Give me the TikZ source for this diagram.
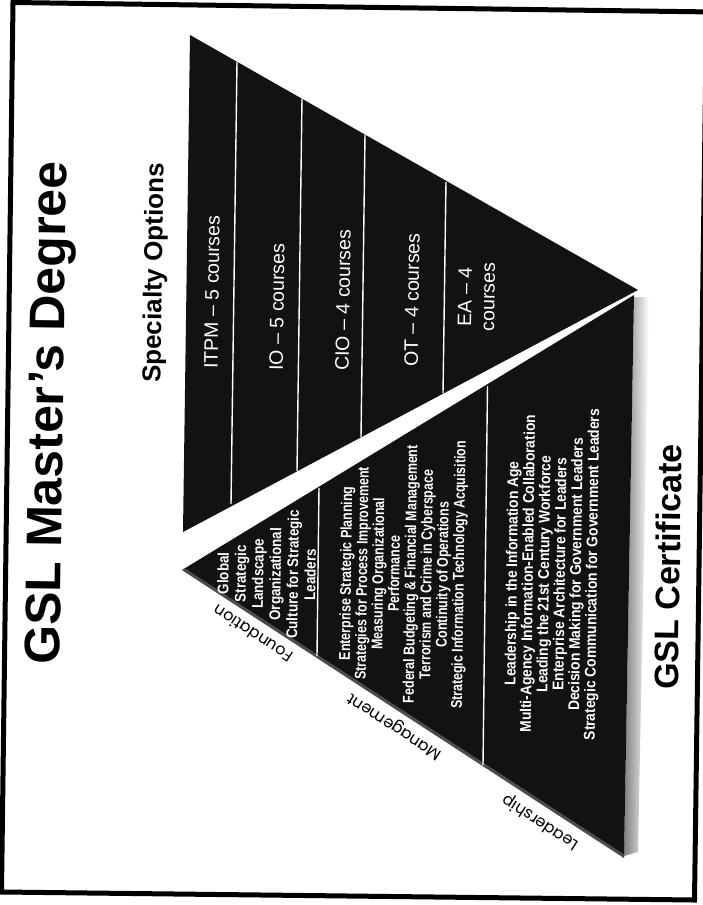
\documentclass[tikz,border=0pt]{standalone}
\usepackage{fontspec}
\setmainfont{Liberation Sans}
\newfontfamily\fndfont[FakeStretch=0.86]{Liberation Sans}
\newfontfamily\mgtfont[FakeStretch=0.80]{Liberation Sans}
\newfontfamily\ldrfont[FakeStretch=0.89]{Liberation Sans}
\newfontfamily\lblfont{Poppins}
\usetikzlibrary{calc}
\definecolor{tri}{HTML}{121212}
\begin{document}
\begin{tikzpicture}[x=1pt,y=-1pt,
  vtext/.style={rotate=89.2, inner sep=0pt},
  spectext/.style={vtext, text=white, font=\fontsize{19.5}{23}\selectfont},
  coursetext/.style={vtext, text=white, align=center},
  divider/.style={white, line width=1.4pt},
  edgelabel/.style={rotate=146.9, inner sep=0pt, font=\lblfont\fontsize{16}{19}\selectfont},
  heading/.style={vtext, anchor=base}
]
\useasboundingbox (0,0) rectangle (703,905);
\fill[white] (0,0) rectangle (703,905);

% frame
\coordinate (fTL) at (13,2.5);
\coordinate (fTR) at (706.5,11.9);
\coordinate (fBR) at (694.5,900);
\coordinate (fBL) at (1.5,892);
\draw[line width=5pt] (fTL) -- (fTR) -- (fBR) -- (fBL) -- cycle;

% triangles
\coordinate (A) at (190,35);
\coordinate (B) at (638,290);
\coordinate (C) at (183,532);
\coordinate (D) at (182,570);
\coordinate (E) at (634,295);
\coordinate (F) at (624,858);

\shade[left color=black!50, right color=white] (634,297) -- (649,297) -- (638,852) -- (624,856) -- cycle;
\fill[tri] (A) -- (B) -- (C) -- cycle;
\fill[tri] (D) -- (E) -- (F) -- cycle;
\begin{scope}
  \clip (D) -- (E) -- (F) -- cycle;
  \draw[black!55, line width=6pt, opacity=0.6] (D) -- (F);
\end{scope}

% dividers in the upper triangle
\coordinate (u1t) at (237,62);   \coordinate (u1b) at (231,504);
\coordinate (u2t) at (302,99);   \coordinate (u2b) at (297,471);
\coordinate (u3t) at (365,135);  \coordinate (u3b) at (361,437);
\coordinate (u4t) at (446,182);  \coordinate (u4b) at (443,393);
\draw[divider] (u1t) -- (u1b);
\draw[divider] (u2t) -- (u2b);
\draw[divider] (u3t) -- (u3b);
\draw[divider] (u4t) -- (u4b);

% dividers in the lower triangle
\coordinate (l1t) at (319,488);  \coordinate (l1b) at (317,656);
\coordinate (l2t) at (487.5,386);\coordinate (l2b) at (483,765);
\draw[divider] (l1t) -- (l1b);
\draw[divider] (l2t) -- (l2b);

% specialty options
\node[spectext] (itpm) at (212,292) {ITPM – 5 courses};
\node[spectext] (io) at (277,307) {IO – 5 courses};
\node[spectext] (cio) at (343,300) {CIO – 4 courses};
\node[spectext] (ot) at (412,300) {OT – 4 courses};
\node[spectext, align=center] (ea) at (476.5,297) {EA – 4\\courses};

% certificate courses
\node[coursetext, font=\fndfont\bfseries\fontsize{15.5}{17.4}\selectfont] (fnd) at (266.5,574)
  {Global\\Strategic\\Landscape\\Organizational\\Culture for Strategic\\Leaders};
\node[coursetext, font=\mgtfont\bfseries\fontsize{15.5}{16.1}\selectfont] (mgt) at (403.5,574)
  {Enterprise Strategic Planning\\Strategies for Process Improvement\\Measuring Organizational\\Performance\\Federal Budgeting \& Financial Management\\Terrorism and Crime in Cyberspace\\Continuity of Operations\\Strategic Information Technology Acquisition};
\node[coursetext, font=\ldrfont\bfseries\fontsize{15.5}{16}\selectfont] (ldr) at (553,574)
  {Leadership in the Information Age\\Multi-Agency Information-Enabled Collaboration\\Leading the 21st Century Workforce\\Enterprise Architecture for Leaders\\Decision Making for Government Leaders\\Strategic Communication for Government Leaders};

% edge labels
\node[edgelabel] (fl) at (253,634) {Foundation};
\node[edgelabel] (ml) at (395,726) {Management};
\node[edgelabel] (ll) at (541,822) {Leadership};

% headings
\node[heading, font=\bfseries\fontsize{50}{60}\selectfont] (title) at (63,413) {GSL Master’s Degree};
\node[heading, font=\bfseries\fontsize{26}{30}\selectfont] (spechead) at (162,273) {Specialty Options};
\node[heading, font=\bfseries\fontsize{34}{40}\selectfont] (cert) at (680,567) {GSL Certificate};
\end{tikzpicture}
\end{document}
